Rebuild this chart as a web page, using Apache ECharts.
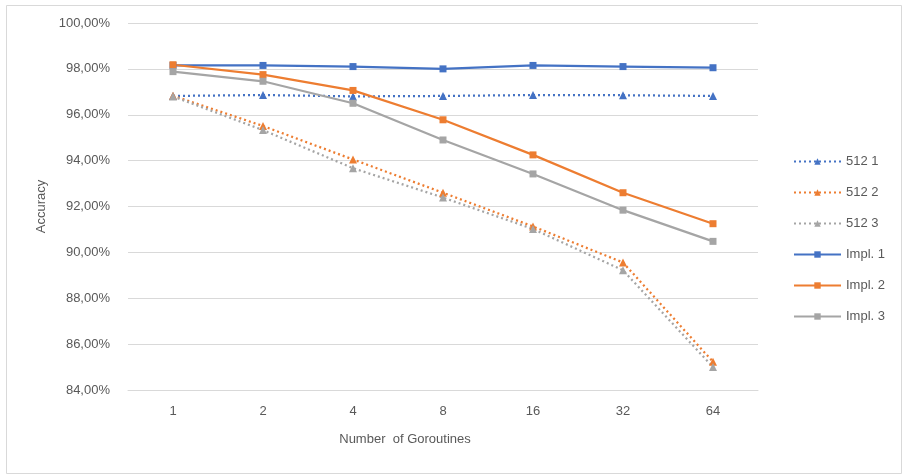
<!DOCTYPE html>
<html>
<head>
<meta charset="utf-8">
<script src="https://cdn.jsdelivr.net/npm/echarts@6/dist/echarts.min.js"></script>
<style>
  html, body { margin: 0; padding: 0; background: #fff; }
  #chart { width: 904px; height: 474px; }
</style>
</head>
<body>
<div id="chart"></div>
<script>
// Goroutine counts along the x axis
const goroutines = ['1', '2', '4', '8', '16', '32', '64'];

// Accuracy (%) per configuration
const acc512_1 = [96.82, 96.86, 96.80, 96.82, 96.86, 96.85, 96.82];
const acc512_2 = [96.83, 95.51, 94.05, 92.60, 91.13, 89.56, 85.23];
const acc512_3 = [96.80, 95.33, 93.67, 92.39, 91.02, 89.22, 85.00];
const accImpl1 = [98.15, 98.15, 98.10, 98.00, 98.15, 98.10, 98.05];
const accImpl2 = [98.18, 97.75, 97.06, 95.78, 94.25, 92.60, 91.25];
const accImpl3 = [97.88, 97.46, 96.50, 94.90, 93.42, 91.84, 90.48];

const FONT = 'Liberation Sans';
const BLUE = '#4472C4', ORANGE = '#ED7D31', GREY = '#A5A5A5';

function dotted(name, data, color) {
  return {
    name, type: 'line', data,
    symbol: 'triangle', symbolSize: 8,
    itemStyle: { color },
    lineStyle: { color, width: 2.25, type: [2, 3] }
  };
}
function solid(name, data, color) {
  return {
    name, type: 'line', data,
    symbol: 'rect', symbolSize: 7,
    itemStyle: { color },
    lineStyle: { color, width: 2.25 }
  };
}

const chart = echarts.init(document.getElementById('chart'), null, { renderer: 'canvas' });
chart.setOption({
  animation: false,
  backgroundColor: '#fff',
  textStyle: { fontFamily: FONT },
  graphic: [{
    type: 'rect', left: 4, top: 3, silent: true,
    shape: { width: 895, height: 468 },
    style: { fill: 'none', stroke: '#d9d9d9', lineWidth: 1 }
  }],
  grid: { left: 128, right: 146, top: 23, bottom: 84 },
  legend: {
    orient: 'vertical', left: 788, top: 150,
    itemWidth: 47, itemHeight: 8, itemGap: 18,
    textStyle: { color: '#595959', fontSize: 13, fontFamily: FONT },
    data: ['512 1', '512 2', '512 3', 'Impl. 1', 'Impl. 2', 'Impl. 3']
  },
  xAxis: {
    type: 'category', data: goroutines, boundaryGap: true,
    name: 'Number  of Goroutines', nameLocation: 'middle', nameGap: 43,
    nameTextStyle: { color: '#595959', fontSize: 13, padding: [0, 76, 0, 0] },
    axisLine: { lineStyle: { color: '#d9d9d9', width: 1 } },
    axisTick: { show: false },
    axisLabel: { color: '#595959', fontSize: 13, margin: 15 }
  },
  yAxis: {
    type: 'value', min: 84, max: 100, interval: 2,
    name: 'Accuracy', nameLocation: 'middle', nameGap: 80,
    nameTextStyle: { color: '#595959', fontSize: 13 },
    axisLine: { show: false }, axisTick: { show: false },
    splitLine: { lineStyle: { color: '#d9d9d9', width: 1 } },
    axisLabel: {
      color: '#595959', fontSize: 13, margin: 18,
      formatter: v => v.toFixed(2).replace('.', ',') + '%'
    }
  },
  series: [
    dotted('512 1', acc512_1, BLUE),
    dotted('512 2', acc512_2, ORANGE),
    dotted('512 3', acc512_3, GREY),
    solid('Impl. 1', accImpl1, BLUE),
    solid('Impl. 2', accImpl2, ORANGE),
    solid('Impl. 3', accImpl3, GREY)
  ]
});
</script>
</body>
</html>
